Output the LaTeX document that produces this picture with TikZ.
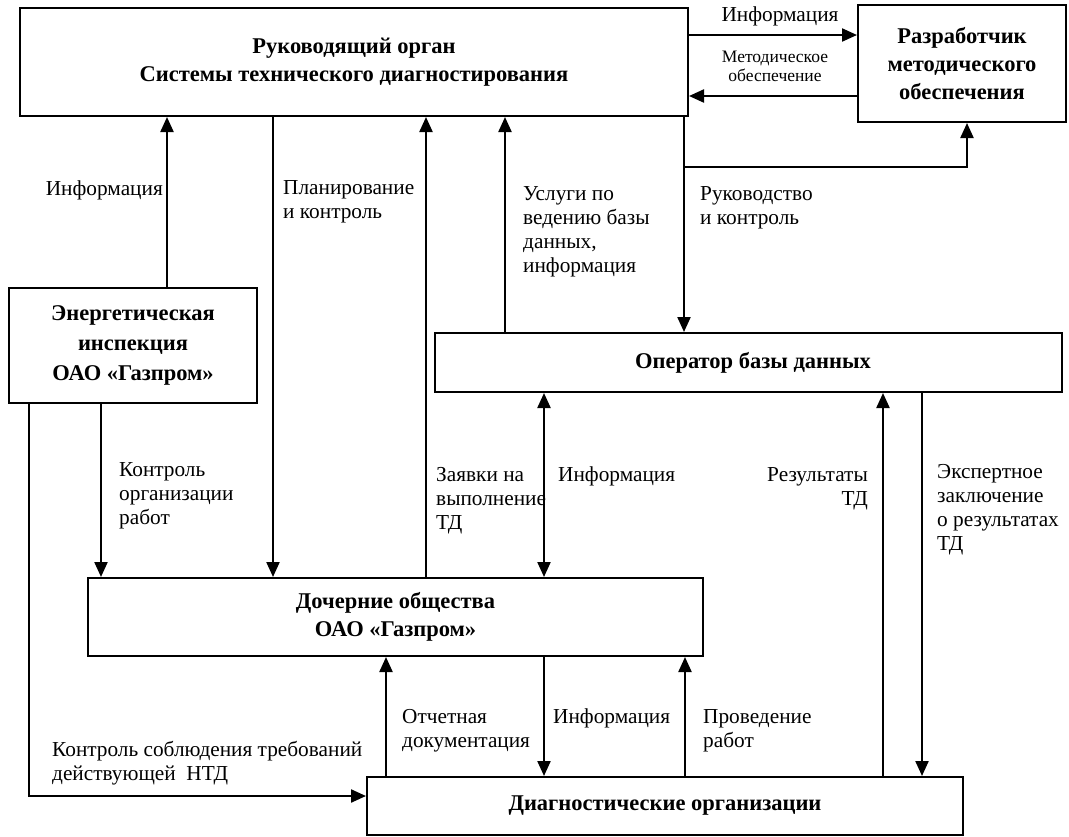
\documentclass[tikz,border=0pt]{standalone}
\usepackage{fontspec}
\setmainfont{Liberation Serif}
\usetikzlibrary{arrows.meta}

\begin{document}
\begin{tikzpicture}[x=1pt, y=-1pt,
    box/.style={draw, line width=2pt, align=center, inner sep=0pt, font=\bfseries\fontsize{22.5}{28}\selectfont},
    lbl/.style={align=left, inner sep=0pt, anchor=north west, font=\fontsize{21.3}{24}\selectfont},
    ln/.style={line width=2.2pt},
    arr/.style={line width=2.2pt, -{Triangle[length=15pt,width=13pt]}},
    darr/.style={line width=2.2pt, {Triangle[length=15pt,width=13pt]}-{Triangle[length=15pt,width=13pt]}}]
  \useasboundingbox (0,0) rectangle (1069,836);

  % boxes
  \node[box, minimum width=668pt, minimum height=108pt] (ruk) at (354,62) {Руководящий орган\\Системы технического диагностирования};
  \node[box, minimum width=208pt, minimum height=117pt] (razr) at (962,63.5) {Разработчик\\методического\\обеспечения};
  \node[box, minimum width=248pt, minimum height=115pt, font=\bfseries\fontsize{22.5}{30}\selectfont] (energ) at (133,345.5) {Энергетическая\\инспекция\\ОАО «Газпром»};
  \node[box, minimum width=627pt, minimum height=59pt] (oper) at (748.5,362.5) {\hspace*{9pt}Оператор базы данных};
  \node[box, minimum width=615pt, minimum height=78pt] (doch) at (395.5,617) {Дочерние общества\\ОАО «Газпром»};
  \node[box, minimum width=596pt, minimum height=58pt] (diag) at (665,806) {Диагностические организации};

  % x and y of the connectors
  \coordinate (xinf) at (167,0);
  \coordinate (xplan) at (273,0);
  \coordinate (xzay) at (426,0);
  \coordinate (xusl) at (505,0);
  \coordinate (xruk) at (684,0);
  \coordinate (xrazr) at (967,0);
  \coordinate (xkon) at (101,0);
  \coordinate (xntd) at (29,0);
  \coordinate (xinfo) at (544,0);
  \coordinate (xrez) at (883,0);
  \coordinate (xexp) at (922,0);
  \coordinate (xotch) at (386,0);
  \coordinate (xprov) at (685,0);
  \coordinate (yinf) at (0,35);
  \coordinate (ymet) at (0,96);
  \coordinate (ybr) at (0,167);
  \coordinate (yntd) at (0,796);

  % connectors
  \draw[arr] (ruk.east |- yinf) -- (razr.west |- yinf);
  \draw[arr] (razr.west |- ymet) -- (ruk.east |- ymet);
  \draw[arr] (ruk.south -| xruk) -- (oper.north -| xruk);
  \draw[arr] (xruk |- ybr) -- (xrazr |- ybr) -- (razr.south -| xrazr);
  \draw[arr] (energ.north -| xinf) -- (ruk.south -| xinf);
  \draw[arr] (ruk.south -| xplan) -- (doch.north -| xplan);
  \draw[arr] (doch.north -| xzay) -- (ruk.south -| xzay);
  \draw[arr] (oper.north -| xusl) -- (ruk.south -| xusl);
  \draw[arr] (energ.south -| xkon) -- (doch.north -| xkon);
  \draw[arr] (energ.south -| xntd) -- (xntd |- yntd) -- (diag.west |- yntd);
  \draw[darr] (doch.north -| xinfo) -- (oper.south -| xinfo);
  \draw[arr] (diag.north -| xrez) -- (oper.south -| xrez);
  \draw[arr] (oper.south -| xexp) -- (diag.north -| xexp);
  \draw[arr] (diag.north -| xotch) -- (doch.south -| xotch);
  \draw[arr] (doch.south -| xinfo) -- (diag.north -| xinfo);
  \draw[arr] (diag.north -| xprov) -- (doch.south -| xprov);

  % labels
  \node[lbl, anchor=center] (l1) at (780,16) {Информация};
  \node[lbl, anchor=center, align=center, font=\fontsize{17.5}{19}\selectfont] (l2) at (775,66) {Методическое\\обеспечение};
  \node[lbl, anchor=east] (l3) at (163,190) {Информация};
  \node[lbl] (l4) at (283,180) {Планирование\\и контроль};
  \node[lbl] (l5) at (523,186) {Услуги по\\ведению базы\\данных,\\информация};
  \node[lbl] (l6) at (700,186) {Руководство\\и контроль};
  \node[lbl] (l7) at (119,462) {Контроль\\организации\\работ};
  \node[lbl] (l8) at (436,467) {Заявки на\\выполнение\\ТД};
  \node[lbl] (l9) at (558,467) {Информация};
  \node[lbl, anchor=north east, align=right] (l10) at (868,467) {Результаты\\ТД};
  \node[lbl] (l11) at (937,464) {Экспертное\\заключение\\о результатах\\ТД};
  \node[lbl] (l12) at (402,709) {Отчетная\\документация};
  \node[lbl] (l13) at (553,709) {Информация};
  \node[lbl] (l14) at (703,709) {Проведение\\работ};
  \node[lbl] (l15) at (52,741) {Контроль соблюдения требований\\действующей\ \ НТД};
\end{tikzpicture}
\end{document}
